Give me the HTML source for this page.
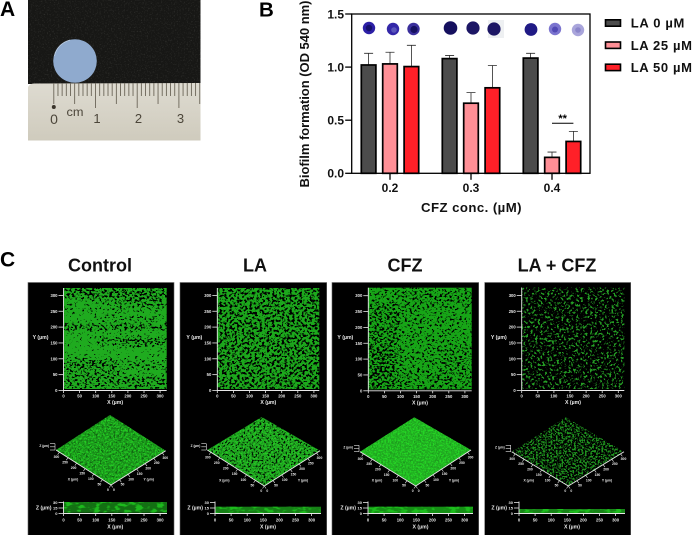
<!DOCTYPE html>
<html lang="en">
<head>
<meta charset="utf-8">
<title>Biofilm formation figure</title>
<style>
html,body{margin:0;padding:0;background:#fff;}
svg{display:block;font-family:"Liberation Sans",Arial,sans-serif;}
</style>
</head>
<body>
<svg id="fig" xmlns="http://www.w3.org/2000/svg" width="692" height="535" viewBox="0 0 692 535">
<defs>
  <filter id="leather" x="0" y="0" width="1" height="1" color-interpolation-filters="sRGB">
    <feTurbulence type="fractalNoise" baseFrequency="0.7" numOctaves="2" seed="4"/>
    <feColorMatrix values="0 0 0 0 0.5  0 0 0 0 0.5  0 0 0 0 0.48  3 0 0 0 -1.6"/>
    <feComposite operator="in" in2="SourceAlpha"/>
  </filter>
  <filter id="void-field" x="0" y="0" width="1" height="1" color-interpolation-filters="sRGB">
    <feGaussianBlur in="SourceGraphic" stdDeviation="2.5" result="zones"/>
    <feTurbulence type="fractalNoise" baseFrequency="0.4 0.48" numOctaves="3" seed="7"/>
    <feColorMatrix values="0 0 0 0 0  0 0 0 0 0  0 0 0 0 0  1 0 0 0 0" result="noise"/>
    <feComposite in="noise" in2="zones" operator="arithmetic" k1="0" k2="1" k3="0.2" k4="0"/>
    <feColorMatrix values="0 0 0 0 0  0 0 0 0 0  0 0 0 0 0  0 0 0 16 -10.9"/>
  </filter>
  <filter id="cov-la" x="0" y="0" width="1" height="1" color-interpolation-filters="sRGB">
    <feTurbulence type="fractalNoise" baseFrequency="0.4" numOctaves="3" seed="11"/>
    <feColorMatrix values="0 0 0 0 0.11  0 0 0 0 0.66  0 0 0 0 0.11  14 0 0 0 -5.7"/>
    <feComposite operator="in" in2="SourceAlpha"/>
  </filter>
  <filter id="cov-combo" x="0" y="0" width="1" height="1" color-interpolation-filters="sRGB">
    <feTurbulence type="fractalNoise" baseFrequency="0.42" numOctaves="3" seed="31"/>
    <feColorMatrix values="0 0 0 0 0.14  0 0 0 0 0.62  0 0 0 0 0.14  12 0 0 0 -6.7"/>
    <feComposite operator="in" in2="SourceAlpha"/>
  </filter>
  <filter id="speck-light" x="0" y="0" width="1" height="1" color-interpolation-filters="sRGB">
    <feTurbulence type="fractalNoise" baseFrequency="0.6" numOctaves="3" seed="5"/>
    <feColorMatrix values="0 0 0 0 0.15  0 0 0 0 0.85  0 0 0 0 0.15  9 0 0 0 -4.4"/>
    <feComposite operator="in" in2="SourceAlpha"/>
  </filter>
  <filter id="speck-dark" x="0" y="0" width="1" height="1" color-interpolation-filters="sRGB">
    <feTurbulence type="fractalNoise" baseFrequency="0.5" numOctaves="3" seed="9"/>
    <feColorMatrix values="0 0 0 0 0  0 0 0 0 0.05  0 0 0 0 0  14 0 0 0 -8"/>
    <feComposite operator="in" in2="SourceAlpha"/>
  </filter>
  <filter id="sparse-3d" x="0" y="0" width="1" height="1" color-interpolation-filters="sRGB">
    <feTurbulence type="fractalNoise" baseFrequency="0.55" numOctaves="3" seed="15"/>
    <feColorMatrix values="0 0 0 0 0.12  0 0 0 0 0.58  0 0 0 0 0.12  12 0 0 0 -5.9"/>
    <feComposite operator="in" in2="SourceAlpha"/>
  </filter>
  <filter id="strip-noise" x="0" y="0" width="1" height="1" color-interpolation-filters="sRGB">
    <feTurbulence type="fractalNoise" baseFrequency="0.14 0.3" numOctaves="2" seed="3"/>
    <feColorMatrix values="0 0 0 0 0.12  0 0 0 0 0.78  0 0 0 0 0.12  7 0 0 0 -3.5"/>
    <feComposite operator="in" in2="SourceAlpha"/>
  </filter>
  <linearGradient id="ruler-gradient" x1="0" y1="0" x2="0" y2="1">
    <stop offset="0" stop-color="#dedbd1"/>
    <stop offset="1" stop-color="#cfcbbd"/>
  </linearGradient>
</defs>

<g id="panel-a">
  <rect x="28" y="0" width="172.5" height="84" fill="#171715"/>
  <rect x="28" y="0" width="172.5" height="84" fill="#fff" filter="url(#leather)" opacity="0.25"/>
  <path d="M28 87 Q30 83.5 34 83.5 L200.5 83 L200.5 140.5 L28 140.5 Z" fill="url(#ruler-gradient)"/>
  <circle cx="75" cy="61" r="21.8" fill="#8faace"/>
  <path d="M54.5 56 Q57 44 70 40" fill="none" stroke="#bccde2" stroke-width="0.8"/>
  <g id="ruler-ticks"></g>
  <circle cx="53.8" cy="107" r="2" fill="#3a342b"/>
  <text x="75" y="116" font-size="12" text-anchor="middle" fill="#4c463a" textLength="17" lengthAdjust="spacingAndGlyphs">cm</text>
  <text x="54" y="124" font-size="14" text-anchor="middle" fill="#4c463a">0</text>
  <text x="97" y="123" font-size="13" text-anchor="middle" fill="#4c463a">1</text>
  <text x="138.5" y="123" font-size="13" text-anchor="middle" fill="#4c463a">2</text>
  <text x="180.5" y="123" font-size="13" text-anchor="middle" fill="#4c463a">3</text>
</g>

<text x="0" y="16" font-size="21" font-weight="700" fill="#000">A</text>
<text x="259" y="16.5" font-size="20.5" font-weight="700" fill="#000">B</text>
<text x="0" y="266.7" font-size="21" font-weight="700" fill="#000">C</text>

<g id="well-images">
  <rect x="488" y="20" width="16" height="18" fill="#eef0f2"/>
  <circle cx="369" cy="28" r="6.2" fill="#2c1fa6"/>
  <circle cx="369" cy="28" r="3.2" fill="#15106b"/>
  <circle cx="393" cy="29" r="6.2" fill="#3327a8"/>
  <circle cx="394" cy="30" r="2.8" fill="#5a55bb"/>
  <circle cx="413.5" cy="29" r="6.2" fill="#3a2f9c"/>
  <circle cx="414" cy="29.5" r="3.6" fill="#151060"/>
  <circle cx="450.5" cy="28" r="6.8" fill="#15105e"/>
  <circle cx="473" cy="28" r="6.6" fill="#1c1665"/>
  <circle cx="494" cy="29" r="6.6" fill="#1c1664"/>
  <circle cx="531" cy="29.5" r="6.4" fill="#201a85"/>
  <circle cx="555" cy="29" r="6.2" fill="#7b74cf"/>
  <circle cx="555" cy="29.5" r="3" fill="#5149b4"/>
  <circle cx="578" cy="30" r="6.2" fill="#a9a5db"/>
  <circle cx="578" cy="30" r="2.8" fill="#8b86ca"/>
</g>

<g id="chart"></g>
<g id="legend"></g>
<g id="micrographs"></g>
</svg>

<script>
// Chart data
const groupLabels = ['0.2', '0.3', '0.4'];
const seriesNames = ['LA 0 µM', 'LA 25 µM', 'LA 50 µM'];
const seriesLA0 = [1.02, 1.08, 1.085];
const seriesLA25 = [1.03, 0.66, 0.15];
const seriesLA50 = [1.005, 0.805, 0.30];
const errorLA0 = [0.11, 0.03, 0.045];
const errorLA25 = [0.11, 0.10, 0.05];
const errorLA50 = [0.20, 0.21, 0.095];
const yTicks = ['0.0', '0.5', '1.0', '1.5'];
const seriesColors = ['#4c4c4c', '#ff8f96', '#ff2028'];
const micrographTicks = ['0', '50', '100', '150', '200', '250', '300'];
const depthTicks = ['0', '15', '30'];

const NS = 'http://www.w3.org/2000/svg';
function make(parent, tag, props, textValue) {
  const el = document.createElementNS(NS, tag);
  for (const key in props) el.setAttribute(key, props[key]);
  if (textValue !== undefined) el.textContent = textValue;
  parent.appendChild(el);
  return el;
}

// Axis functions
const plotLeft = 351.7, plotRight = 590, plotBottom = 173.3, plotTop = 14;
function yScale(v) { return plotBottom - (v / 1.5) * (plotBottom - plotTop); }
function xGroup(i) { return 390 + i * 81; }
function xBar(i, j) { return xGroup(i) + (j - 1) * 21.4; }

const chart = document.getElementById('chart');
const allValues = [seriesLA0, seriesLA25, seriesLA50];
const allErrors = [errorLA0, errorLA25, errorLA50];

allValues.forEach(function (values, j) {
  values.forEach(function (v, i) {
    const cx = xBar(i, j);
    const err = make(chart, 'path', {
      d: 'M' + cx + ' ' + yScale(v) + 'V' + yScale(v + allErrors[j][i]) + 'M' + (cx - 4.5) + ' ' + yScale(v + allErrors[j][i]) + 'H' + (cx + 4.5),
      fill: 'none', stroke: '#2a2a2a', 'stroke-width': 0.8
    });
    
    
    const bar = make(chart, 'rect', {
      x: cx - 7.3, y: yScale(v), width: 14.6, height: plotBottom - yScale(v),
      fill: seriesColors[j], stroke: '#000', 'stroke-width': 1.7
    });
    
    
  });
});

const frame = make(chart, 'rect', {
  x: plotLeft, y: plotTop, width: plotRight - plotLeft, height: plotBottom - plotTop,
  fill: 'none', stroke: '#000', 'stroke-width': 1.3
});



yTicks.forEach(function (t) {
  const y = yScale(parseFloat(t));
  const tick = make(chart, 'line', { x1: plotLeft - 6.5, x2: plotLeft, y1: y, y2: y, stroke: '#000', 'stroke-width': 1.3 });
  
  
  const label = make(chart, 'text', { x: 344, y: y + 4.3, 'font-size': 12, 'font-weight': 700, 'text-anchor': 'end', fill: '#111' }, t);
  
  
});

groupLabels.forEach(function (t, i) {
  const x = xGroup(i);
  const tick = make(chart, 'line', { x1: x, x2: x, y1: plotBottom, y2: plotBottom + 6.5, stroke: '#000', 'stroke-width': 1.3 });
  
  
  const label = make(chart, 'text', { x: x, y: 192, 'font-size': 12, 'font-weight': 700, 'text-anchor': 'middle', fill: '#111' }, t);
  
  
});

const xTitle = make(chart, 'text', { x: 471.3, y: 212, 'font-size': 13.2, 'font-weight': 700, 'text-anchor': 'middle', textLength: 100.5, fill: '#111' }, 'CFZ conc. (µM)');


const yTitle = make(chart, 'text', { transform: 'translate(309 94) rotate(-90)', 'font-size': 13, 'font-weight': 700, 'text-anchor': 'middle', textLength: 187, fill: '#111' }, 'Biofilm formation (OD 540 nm)');



const sigLine = make(chart, 'line', { x1: xBar(2, 1), x2: xBar(2, 2), y1: 123.3, y2: 123.3, stroke: '#000', 'stroke-width': 1 });


const sigText = make(chart, 'text', { x: (xBar(2, 1) + xBar(2, 2)) / 2, y: 122, 'font-size': 11, 'font-weight': 700, 'text-anchor': 'middle', fill: '#000' }, '**');



// Legend
const legend = document.getElementById('legend');
seriesNames.forEach(function (name, j) {
  const y = 23 + j * 22.2;
  const swatch = make(legend, 'rect', { x: 605.5, y: y - 3.2, width: 15, height: 6.4, fill: seriesColors[j], stroke: '#000', 'stroke-width': 1.6 });
  
  
  const label = make(legend, 'text', { x: 630.7, y: y + 4.6, 'font-size': 13, 'font-weight': 700, fill: '#111', textLength: j === 0 ? 53.7 : 61.3 }, name);
  
  
});

// Ruler in the photograph
const ruler = document.getElementById('ruler-ticks');
for (let m = 0; m <= 35; m++) {
  const x = 53.8 + m * 4.17;
  const end = m % 10 === 0 ? (m === 0 ? 104 : 108) : (m % 5 === 0 ? 104 : 96);
  const mark = make(ruler, 'line', { x1: x, x2: x, y1: 83, y2: end, stroke: '#6b6558', 'stroke-width': 0.9 });
  
  
}

// Confocal micrograph panels
const host = document.getElementById('micrographs');

function label(parent, x, y, size, anchor, str) {
  const t = make(parent, 'text', { x: x, y: y, 'font-size': size, 'font-weight': 700, 'text-anchor': anchor, fill: '#e8e8e8' }, str);
  
  
  return t;
}

function whiteLine(parent, x1, y1, x2, y2, w) {
  const l = make(parent, 'line', { x1: x1, y1: y1, x2: x2, y2: y2, stroke: '#e8e8e8', 'stroke-width': w || 0.8 });
  
  
  return l;
}

function drawMicrograph(key, title, titleX, boxLeft, boxRight, map, dia, strip, style) {
  const g = make(host, 'g', {});
  
  

  const heading = make(g, 'text', { x: titleX, y: 271.5, 'font-size': 18, 'font-weight': 700, 'text-anchor': 'middle', fill: '#111' }, title);
  
  

  const box = make(g, 'rect', { x: boxLeft, y: 282.5, width: boxRight - boxLeft, height: 254, fill: '#000', stroke: '#666', 'stroke-width': 0.6 });
  
  

  // Top view coverage map
  const w = map.r - map.l, h = map.b - map.t;
  if (style.mapFilter) {
    const cov = make(g, 'rect', { x: map.l, y: map.t, width: w, height: h, fill: '#fff', filter: 'url(#' + style.mapFilter + ')' });
    
    
  } else {
    const cov = make(g, 'rect', { x: map.l, y: map.t, width: w, height: h, fill: style.mapColor });
    
    
    // Gaps in the biofilm: thresholded noise, denser where the soft zones are stronger
    const gaps = make(g, 'g', { filter: 'url(#void-field)' });
    
    
    const extent = make(gaps, 'rect', { x: map.l, y: map.t, width: w, height: h, fill: '#fff', 'fill-opacity': 0.001 });
    
    
    (style.voids || []).forEach(function (z) {
      const patch = make(gaps, 'rect', { x: map.l + z[0], y: map.t + z[1], width: z[2], height: z[3], fill: '#fff', 'fill-opacity': z[4] });
      
      
    });
  }

  // Top view axes
  whiteLine(g, map.l, map.t, map.l, map.b + 1.5, 0.9);
  whiteLine(g, map.l, map.b + 1.5, map.r, map.b + 1.5, 0.9);
  const unitX = 32.2 / 100, unitY = 31.7 / 100;
  micrographTicks.forEach(function (t) {
    const v = parseFloat(t);
    const tx = map.l + v * unitX;
    const ty = map.b + 1.5 - v * unitY;
    whiteLine(g, tx, map.b + 1.5, tx, map.b + 4);
    whiteLine(g, map.l - 5, ty, map.l, ty);
    label(g, tx, map.b + 8.5, 4.2, 'middle', t);
    label(g, map.l - 6, ty + 1.5, 4.2, 'end', t);
  });
  label(g, map.l - 15, (map.t + map.b) / 2 + 0.5, 5.2, 'end', 'Y (µm)');
  label(g, (map.l + map.r) / 2, map.b + 15, 5.2, 'middle', 'X (µm)');

  // 3D surface
  const pts = [dia.lx, dia.ly, dia.tx, dia.ty, dia.rx, dia.ry, dia.bx, dia.by].join(' ');
  if (style.surface) {
    const base = make(g, 'polygon', { points: pts, fill: style.surface });
    
    
    const light = make(g, 'polygon', { points: pts, fill: '#fff', filter: 'url(#speck-light)', opacity: style.lightOpacity });
    
    
    const dark = make(g, 'polygon', { points: pts, fill: '#fff', filter: 'url(#speck-dark)', opacity: style.darkOpacity });
    
    
  } else {
    const sparse = make(g, 'polygon', { points: pts, fill: '#fff', filter: 'url(#sparse-3d)' });
    
    
  }
  whiteLine(g, dia.lx, dia.ly, dia.bx, dia.by, 0.9);
  whiteLine(g, dia.bx, dia.by, dia.rx, dia.ry, 0.9);
  micrographTicks.forEach(function (t) {
    const f = parseFloat(t) / 320;
    const ax = dia.bx + (dia.lx - dia.bx) * f, ay = dia.by + (dia.ly - dia.by) * f;
    const bx = dia.bx + (dia.rx - dia.bx) * f, by = dia.by + (dia.ry - dia.by) * f;
    whiteLine(g, ax, ay, ax - 1.8, ay + 2.5, 0.6);
    whiteLine(g, bx, by, bx + 1.8, by + 2.5, 0.6);
    label(g, ax - 3, ay + 6, 3.4, 'middle', t);
    label(g, bx + 3, by + 6, 3.4, 'middle', t);
  });
  label(g, dia.lx + 17, dia.by - 4.5, 3.4, 'middle', 'X (µm)');
  label(g, dia.rx - 17, dia.by - 4.5, 3.4, 'middle', 'Y (µm)');
  label(g, dia.lx - 7, dia.ly - 3, 3.2, 'end', 'Z (µm)');
  depthTicks.forEach(function (t, i) {
    whiteLine(g, dia.lx - 6, dia.ly - i * 3.2, dia.lx - 1, dia.ly - i * 3.2, 0.6);
  });
  whiteLine(g, dia.lx - 1, dia.ly, dia.lx - 1, dia.ly - 6.4, 0.6);

  // Side view strip
  const side = make(g, 'rect', { x: strip.l, y: strip.t, width: strip.r - strip.l, height: strip.b - strip.t, fill: style.strip });
  
  
  const sideLight = make(g, 'rect', { x: strip.l, y: strip.t, width: strip.r - strip.l, height: strip.b - strip.t, fill: '#fff', filter: 'url(#strip-noise)', opacity: 0.85 });
  
  
  whiteLine(g, strip.l, 501.5, strip.l, 513.5, 0.9);
  whiteLine(g, strip.l, 513.5, strip.r, 513.5, 0.9);
  micrographTicks.forEach(function (t) {
    const tx = strip.l + parseFloat(t) * unitX;
    whiteLine(g, tx, 513.5, tx, 516);
    label(g, tx, 521.5, 4.2, 'middle', t);
  });
  depthTicks.forEach(function (t, i) {
    const ty = 513.5 - i * 5.5;
    whiteLine(g, strip.l - 5, ty, strip.l, ty);
    label(g, strip.l - 6, ty + 1.4, 4, 'end', t);
  });
  label(g, strip.l - 12, 509.5, 5.2, 'end', 'Z (µm)');
  label(g, (strip.l + strip.r) / 2, 528.5, 5.2, 'middle', 'X (µm)');
}

drawMicrograph('control', 'Control', 100, 28, 174,
  { l: 63.5, r: 166.7, t: 288, b: 389 },
  { lx: 56, ly: 450, tx: 110, ty: 415, rx: 165.7, ry: 450.7, bx: 111, by: 485 },
  { l: 63.5, r: 167, t: 502, b: 512.7 },
  { mapColor: '#1fab1f', surface: '#1b961b', lightOpacity: 0.8, darkOpacity: 0.35, strip: '#137013',
    voids: [
      [0, 0, 103, 9, 0.9], [50, 9, 53, 9, 0.7], [0, 9, 50, 6, 0.5],
      [0, 19, 103, 4, 0.5], [30, 27, 73, 6, 0.55], [0, 36, 103, 7, 0.8],
      [55, 49, 48, 9, 0.85], [28, 48, 30, 12, 0.5], [0, 70, 55, 16, 0.75],
      [55, 72, 48, 10, 0.5], [0, 87, 103, 14, 0.7]
    ] });

drawMicrograph('la', 'LA', 255, 180, 326.7,
  { l: 217.3, r: 319.3, t: 288, b: 389 },
  { lx: 207.3, ly: 450, tx: 261.7, ty: 417, rx: 320, ry: 450.7, bx: 264.3, by: 486 },
  { l: 215, r: 321, t: 506.7, b: 513 },
  { mapFilter: 'cov-la', surface: '#1f9f1f', lightOpacity: 0.75, darkOpacity: 0.95, strip: '#168016' });

drawMicrograph('cfz', 'CFZ', 405, 332, 478.7,
  { l: 368.3, r: 471.7, t: 287.7, b: 389.3 },
  { lx: 360, ly: 451.7, tx: 414.3, ty: 417.3, rx: 471, ry: 450, bx: 415.7, by: 486 },
  { l: 368, r: 473, t: 506.7, b: 513 },
  { mapColor: '#17a517', surface: '#22ae22', lightOpacity: 0.95, darkOpacity: 0.12, strip: '#159015',
    voids: [
      [0, 0, 103, 102, 0.45], [0, 15, 32, 87, 0.6], [0, 60, 20, 42, 0.9],
      [35, 0, 68, 16, 0.4], [72, 58, 31, 44, 0.4], [35, 85, 40, 17, 0.3]
    ] });

drawMicrograph('combo', 'LA + CFZ', 557, 484.7, 630.7,
  { l: 521.7, r: 624.3, t: 287.5, b: 389 },
  { lx: 511.7, ly: 451.7, tx: 565.7, ty: 417.3, rx: 624, ry: 451.7, bx: 568.3, by: 486 },
  { l: 519, r: 625, t: 509, b: 513 },
  { mapFilter: 'cov-combo', surface: null, lightOpacity: 0, darkOpacity: 0, strip: '#178417' });
</script>
</body>
</html>
